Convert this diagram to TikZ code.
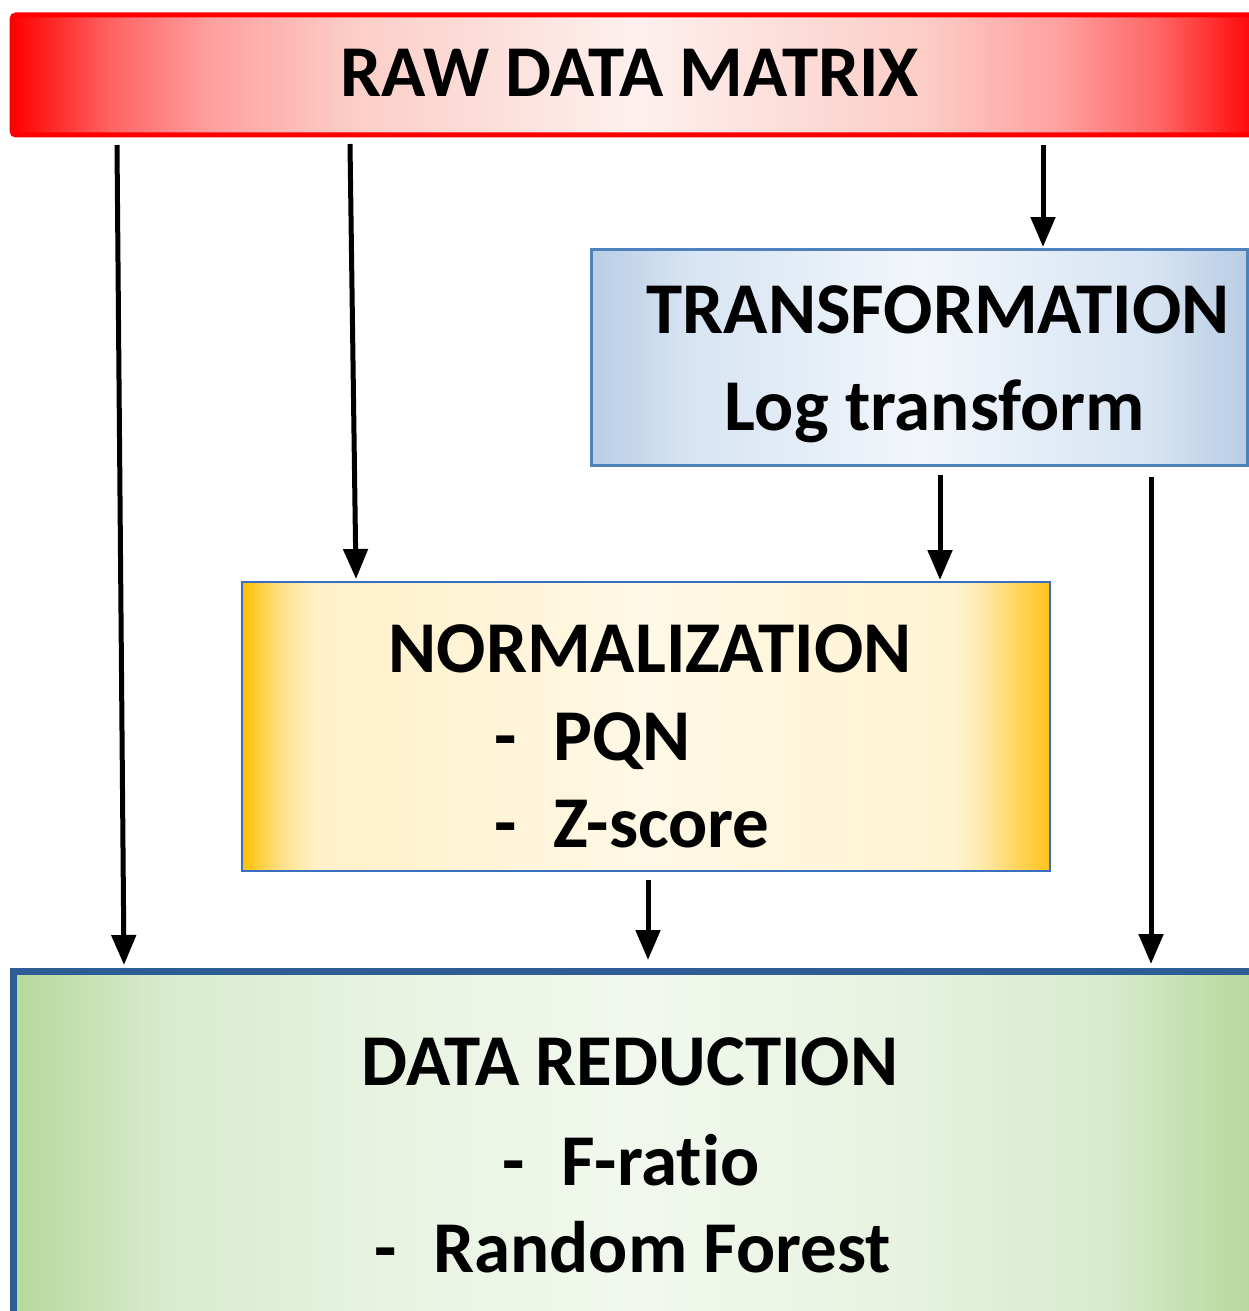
\documentclass[tikz,border=0pt]{standalone}
\usepackage{fontspec}
\setmainfont{Carlito}[Ligatures=NoCommon]
\usetikzlibrary{arrows.meta,calc}
\definecolor{rawA}{RGB}{255,0,0}
\definecolor{rawB}{RGB}{255,100,100}
\definecolor{rawC}{RGB}{255,160,160}
\definecolor{rawD}{RGB}{252,205,198}
\definecolor{rawE}{RGB}{253,240,238}
\definecolor{trA}{RGB}{185,205,229}
\definecolor{trB}{RGB}{215,228,242}
\definecolor{trC}{RGB}{242,246,251}
\definecolor{nmA}{RGB}{255,192,0}
\definecolor{nmB}{RGB}{254,205,60}
\definecolor{nmC}{RGB}{255,225,140}
\definecolor{nmD}{RGB}{255,240,200}
\definecolor{nmE}{RGB}{255,248,230}
\definecolor{nmF}{RGB}{255,243,210}
\definecolor{nmG}{RGB}{255,232,165}
\definecolor{nmH}{RGB}{255,212,90}
\definecolor{nmI}{RGB}{255,195,30}
\definecolor{drA}{RGB}{181,216,155}
\definecolor{drB}{RGB}{215,235,205}
\definecolor{drC}{RGB}{232,243,225}
\definecolor{drD}{RGB}{242,248,238}
\definecolor{rawborder}{RGB}{255,0,0}
\definecolor{trborder}{RGB}{79,129,189}
\definecolor{nmborder}{RGB}{58,110,190}
\definecolor{drborder}{RGB}{46,93,150}
\pgfdeclarehorizontalshading{rawshade}{100bp}{color(0bp)=(rawA); color(25bp)=(rawA); color(29bp)=(rawB); color(33bp)=(rawC); color(38.5bp)=(rawD); color(50bp)=(rawE); color(61.5bp)=(rawD); color(67bp)=(rawC); color(71bp)=(rawB); color(75bp)=(rawA); color(100bp)=(rawA)}
\pgfdeclarehorizontalshading{trshade}{100bp}{color(0bp)=(trA); color(25bp)=(trA); color(32.5bp)=(trB); color(50bp)=(trC); color(67.5bp)=(trB); color(75bp)=(trA); color(100bp)=(trA)}
\pgfdeclarehorizontalshading{nmshade}{100bp}{color(0bp)=(nmA); color(25bp)=(nmA); color(26bp)=(nmB); color(27.5bp)=(nmC); color(29.5bp)=(nmD); color(50bp)=(nmE); color(69bp)=(nmF); color(71bp)=(nmG); color(73bp)=(nmH); color(75bp)=(nmI); color(100bp)=(nmI)}
\pgfdeclarehorizontalshading{drshade}{100bp}{color(0bp)=(drA); color(25bp)=(drA); color(31bp)=(drB); color(40bp)=(drC); color(50bp)=(drD); color(60bp)=(drC); color(69bp)=(drB); color(75bp)=(drA); color(100bp)=(drA)}
\begin{document}
\begin{tikzpicture}[x=0.5pt,y=-0.5pt,
  box/.style={rectangle, inner sep=0pt, outer sep=0pt, anchor=north west, shade},
  lbl/.style={font=\bfseries\fontsize{36.5}{44}\selectfont, inner sep=0pt, anchor=base},
  arr/.style={line width=2.5pt, -{Triangle[length=15pt,width=12pt]}}]
\useasboundingbox (0,0) rectangle (1248,1311);
\fill[white] (0,0) rectangle (1248,1311);
% boxes
\node[box, shading=rawshade, draw=rawborder, line width=2.5pt, rounded corners=2pt,
  minimum width=624pt, minimum height=60pt] (raw) at (12,15) {};
\node[box, shading=trshade, draw=trborder, line width=1.5pt,
  minimum width=328pt, minimum height=108pt] (trans) at (591,249) {};
\node[box, shading=nmshade, draw=nmborder, line width=1.25pt,
  minimum width=404pt, minimum height=144.5pt] (norm) at (242,582) {};
\node[box, shading=drshade, draw=drborder, line width=3.5pt,
  minimum width=621.5pt, minimum height=172.5pt] (data) at (13,971) {};
% texts
\node[lbl] (rawt) at (630,97) {RAW DATA MATRIX};
\node[lbl] (trt) at (938,333) {TRANSFORMATION};
\node[lbl] (logt) at (935,430) {Log transform};
\node[lbl] (normt) at (650,672) {NORMALIZATION};
\node[lbl, anchor=base west] (pqn) at (494,760) {-\hspace{0.5em}PQN};
\node[lbl, anchor=base west] (zs) at (494,847) {-\hspace{0.5em}Z-score};
\node[lbl] (drt) at (630,1085) {DATA REDUCTION};
\node[lbl, anchor=base west] (fr) at (502,1185) {-\hspace{0.5em}F-ratio};
\node[lbl, anchor=base west] (rf) at (374,1272) {-\hspace{0.5em}Random Forest};
% arrows
\draw[arr] ($(raw.south west)+(105,10)$) -- ($(data.north west)+(111,-6)$);
\draw[arr] ($(raw.south west)+(338,9)$) -- ($(norm.north west)+(114,-3)$);
\draw[arr] ($(raw.south west)+(1031,10)$) -- ($(trans.north west)+(452,-2)$);
\draw[arr] ($(trans.south west)+(349,10)$) -- ($(norm.north west)+(698,-2)$);
\draw[arr] ($(trans.south west)+(560,12)$) -- ($(data.north west)+(1138,-7)$);
\draw[arr] ($(norm.south west)+(406,9)$) -- ($(data.north west)+(635,-11)$);
\end{tikzpicture}
\end{document}
